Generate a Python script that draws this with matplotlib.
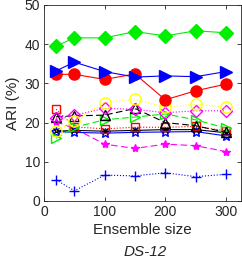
import matplotlib
matplotlib.use("Agg")
from matplotlib import pyplot as plt

plt.rcParams['font.family'] = ['Liberation Sans', 'DejaVu Sans']

# ensemble sizes
sizes = [20, 50, 100, 150, 200, 250, 300]

# ARI (%) per method
green_diamond = [39.5, 41.6, 41.6, 43.2, 42.1, 43.4, 42.9]
blue_tri = [33.2, 35.4, 33.0, 31.6, 31.9, 31.7, 33.0]
red_circle = [32.3, 32.3, 31.0, 32.4, 25.8, 28.1, 29.8]
yellow_circle = [17.8, 20.4, 25.1, 25.9, 23.9, 24.7, 23.9]
magenta_diamond = [21.2, 21.9, 23.6, 23.4, 22.5, 23.0, 23.0]
black_tri = [21.5, 21.7, 21.9, 23.6, 20.0, 19.2, 17.5]
green_tri = [16.0, 18.8, 20.7, 21.4, 22.2, 20.7, 18.6]
red_square = [23.4, 18.9, 18.4, 18.8, 18.8, 19.0, 17.9]
black_line = [17.8, 18.0, 17.8, 18.0, 18.2, 18.2, 17.4]
blue_star = [17.7, 17.5, 17.3, 17.5, 17.6, 17.7, 16.6]
magenta_star = [20.2, 18.5, 14.5, 13.4, 14.5, 14.1, 12.6]
blue_plus = [5.4, 2.6, 6.6, 6.4, 7.2, 6.2, 6.8]

fig = plt.figure(figsize=(2.42, 2.59), dpi=100)
ax = fig.add_axes([0.182, 0.224, 0.814, 0.757])

ax.plot(sizes, blue_plus, color="blue", ls=":", marker="+", ms=7, lw=0.8)
ax.plot(sizes, magenta_star, color="magenta", ls=(0, (6, 3)), marker="*", ms=6, lw=0.8)
ax.plot(sizes, blue_star, color="blue", ls="-", marker="*", ms=7, mfc="none", lw=0.8)
ax.plot(sizes, black_line, color="black", ls="-", marker="x", ms=4, lw=0.8)
ax.plot(sizes, red_square, color="red", ls=":", marker="s", ms=6, mfc="none", lw=0.8)
ax.plot(sizes, green_tri, color="#00ee00", ls=(0, (6, 3)), marker=">", ms=7, mfc="none", lw=0.8)
ax.plot(sizes, black_tri, color="black", ls=(0, (6, 3)), marker="^", ms=7, mfc="none", lw=0.8)
ax.plot(sizes, magenta_diamond, color="magenta", ls=":", marker="D", ms=6, mfc="none", lw=0.8)
ax.plot(sizes, yellow_circle, color="yellow", ls=":", marker="o", ms=8, mfc="none", lw=0.8)
ax.plot(sizes, red_circle, color="red", ls="-", marker="o", ms=8, lw=0.8)
ax.plot(sizes, blue_tri, color="blue", ls="-", marker=">", ms=8, lw=0.8)
ax.plot(sizes, green_diamond, color="#00ee00", ls="-", marker="D", ms=7, lw=0.8)

ax.set_xlim(0, 325)
ax.set_ylim(0, 50)
ax.set_xticks([0, 100, 200, 300])
ax.set_yticks([0, 10, 20, 30, 40, 50])
ax.tick_params(direction="in", length=3, labelsize=10, colors="#262626",
               top=True, right=True, width=0.6, pad=3)
for s in ax.spines.values():
    s.set_color("#262626")
    s.set_linewidth(0.6)

ax.set_xlabel("Ensemble size", fontsize=11, color="#262626", labelpad=3)
ax.set_ylabel("ARI (%)", fontsize=11, color="#262626", labelpad=3)
fig.text(0.6, 0.01, "DS-12", fontsize=11, style="italic", color="#262626", ha="center")

fig.savefig("out.png", dpi=100)
